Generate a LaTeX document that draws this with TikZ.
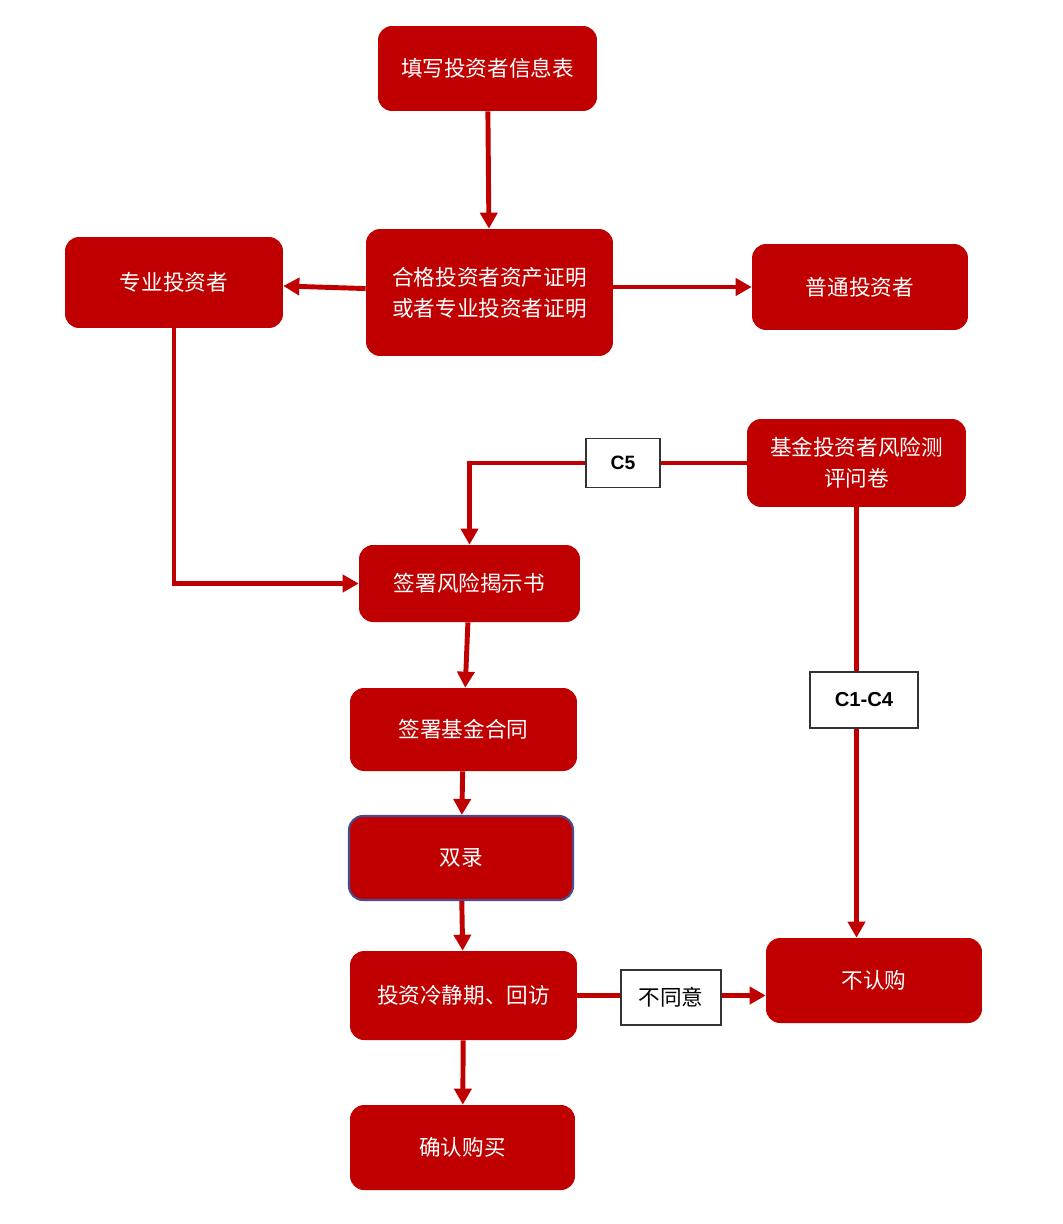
\documentclass[tikz,border=0pt]{standalone}
\usepackage{fontspec}
\setmainfont{Liberation Sans}
\newfontfamily\cjk{Noto Sans CJK SC}
\usetikzlibrary{arrows.meta}
\definecolor{boxred}{HTML}{C00000}
\definecolor{edgeblue}{HTML}{4B4B8C}
\begin{document}
\begin{tikzpicture}[x=0.02cm,y=-0.02cm,
    box/.style={fill=boxred,rounded corners=0.28cm,inner sep=0pt,align=center,
      text=white,font=\cjk\fontsize{12.3}{17.6}\selectfont},
    tag/.style={draw=black!80,line width=0.6pt,fill=white,inner sep=0pt},
    flow/.style={draw=boxred,line width=2.8pt,-{Triangle[length=0.32cm,width=0.34cm]}},
    plain/.style={draw=boxred,line width=2.8pt}]
  \useasboundingbox (0,0) rectangle (1062,1224);
  % boxes
  \node[box,minimum width=4.38cm,minimum height=1.70cm] (fill) at (487.5,68.5) {填写投资者信息表};
  \node[box,minimum width=4.94cm,minimum height=2.54cm] (qual) at (489.5,292.5) {合格投资者资产证明\\或者专业投资者证明};
  \node[box,minimum width=4.36cm,minimum height=1.82cm] (pro) at (174,282.5) {专业投资者};
  \node[box,minimum width=4.32cm,minimum height=1.72cm] (normal) at (860,287) {普通投资者};
  \node[box,minimum width=4.38cm,minimum height=1.76cm] (qa) at (856.5,463) {基金投资者风险测\\评问卷};
  \node[box,minimum width=4.42cm,minimum height=1.54cm] (risk) at (469.5,583.5) {签署风险揭示书};
  \node[box,minimum width=4.54cm,minimum height=1.66cm] (contract) at (463.5,729.5) {签署基金合同};
  \node[box,draw=edgeblue,line width=1.2pt,minimum width=4.48cm,minimum height=1.68cm] (dual) at (461,858) {双录};
  \node[box,minimum width=4.54cm,minimum height=1.78cm] (cool) at (463.5,995.5) {投资冷静期、回访};
  \node[box,minimum width=4.50cm,minimum height=1.70cm] (buy) at (462.5,1147.5) {确认购买};
  \node[box,minimum width=4.32cm,minimum height=1.70cm] (no) at (874,980.5) {不认购};
  % arrows
  \draw[flow] (fill) -- (qual);
  \draw[flow] (qual) -- (pro);
  \draw[flow] (qual.east |- normal) -- (normal.west);
  \draw[flow] (pro.south) |- (risk.west);
  \draw[flow] (qa.west) -| (risk.north);
  \draw[flow] (qa.south) -- (qa.south |- no.north);
  \draw[flow] (risk) -- (contract);
  \draw[flow] (contract) -- (dual);
  \draw[flow] (dual) -- (cool);
  \draw[flow] (cool) -- (buy);
  \draw[flow] (cool.east) -- (cool.east -| no.west);
  % labels on the arrows
  \node[tag,minimum width=1.48cm,minimum height=0.98cm,font=\bfseries\fontsize{11}{13}\selectfont] (c5) at (623,463) {C5\hspace{0.25cm}};
  \node[tag,minimum width=2.16cm,minimum height=1.12cm,font=\bfseries\fontsize{11.5}{13}\selectfont] (c14) at (864,700) {C1-C4\hspace{0.25cm}};
  \node[tag,minimum width=2.00cm,minimum height=1.10cm,font=\cjk\fontsize{12.3}{14}\selectfont] (disagree) at (671,997.5) {不同意};
\end{tikzpicture}
\end{document}
